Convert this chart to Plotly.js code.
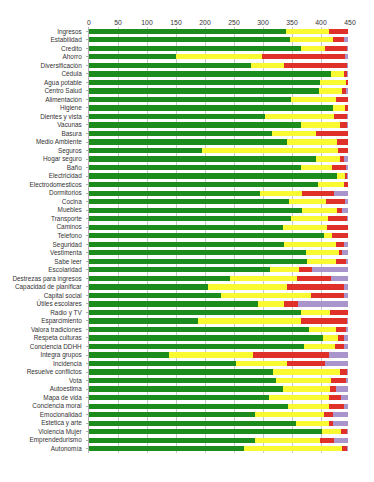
<!DOCTYPE html>
<html><head><meta charset="utf-8">
<script src="https://cdn.plot.ly/plotly-3.0.1.min.js"></script>
<style>html,body{margin:0;padding:0;background:#fff;}#c{width:374px;height:482px;}</style>
</head><body><div id="c"></div>
<script>
const categories = ["Ingresos","Estabilidad","Credito","Ahorro","Diversificación","Cédula","Agua potable","Centro Salud","Alimentación","Higiene","Dientes y vista","Vacunas","Basura","Medio Ambiente","Seguros","Hogar seguro","Baño","Electricidad","Electrodomesticos","Dormitorios","Cocina","Muebles","Transporte","Caminos","Telefono","Seguridad","Vestimenta","Sabe leer","Escolaridad","Destrezas para ingresos","Capacidad de planificar","Capital social","Útiles escolares","Radio y TV","Esparcimiento","Valora tradiciones","Respeta culturas","Conciencia DDHH","Integra grupos","Incidencia","Resuelve conflictos","Vota","Autoestima","Mapa de vida","Conciencia moral","Emocionalidad","Estetica y arte","Violencia Mujer","Emprendedurismo","Autonomía"];
const green  = [340,347,365,150,280,417,398,396,349,421,304,365,316,341,195,391,365,427,395,295,345,368,348,335,405,336,374,375,312,243,205,227,292,365,188,379,404,371,138,253,318,323,335,310,343,286,357,401,286,267];
const yellow = [74,74,42,149,57,23,45,41,76,20,119,68,75,86,234,41,54,14,44,73,64,60,64,76,14,89,57,51,50,115,136,155,44,50,177,47,26,53,144,89,114,95,80,104,70,119,57,33,113,170];
const red    = [32,19,37,142,107,4,3,6,21,5,22,11,55,19,17,8,24,4,7,54,32,9,33,35,27,14,6,17,22,59,99,58,24,31,79,17,10,16,131,65,13,25,11,20,27,15,6,10,23,7];
const purple = [0,6,2,5,2,2,0,3,0,0,1,2,0,0,0,6,3,1,1,24,5,9,1,0,0,7,9,3,62,29,6,6,86,0,2,3,6,6,33,39,1,3,20,12,6,26,26,2,24,2];

const common = {type:'bar', orientation:'h', y:categories, hoverinfo:'skip'};
const traces = [
  Object.assign({}, common, {x:green,  marker:{color:'#1c8c1c'}, name:'Verde'}),
  Object.assign({}, common, {x:yellow, marker:{color:'#fafa32'}, name:'Amarillo'}),
  Object.assign({}, common, {x:red,    marker:{color:'#e0302a'}, name:'Rojo'}),
  Object.assign({}, common, {x:purple, marker:{color:'#a994cc'}, name:'Morado'})
];
const layout = {
  width:374, height:482,
  margin:{l:89, r:24, t:27, b:29, pad:0},
  barmode:'stack', bargap:0.38, showlegend:false,
  paper_bgcolor:'#fff', plot_bgcolor:'#fff',
  font:{family:'"Liberation Sans", Arial, sans-serif', size:6.4, color:'#333333'},
  xaxis:{range:[0,450], side:'top', dtick:50, tick0:0, showgrid:true, gridcolor:'#c8c8c8', gridwidth:1,
         zeroline:false, showline:false, ticks:'', tickfont:{size:6.8, color:'#333333'}, fixedrange:true},
  yaxis:{type:'category', autorange:'reversed', tickmode:'array', tickvals:categories, ticktext:categories,
         showgrid:false, showline:true, linecolor:'#b0b0b0', linewidth:1,
         ticks:'outside', ticklen:2, tickcolor:'#b0b0b0', tickfont:{size:6.4, color:'#333333'}, ticklabelstandoff:3, fixedrange:true}
};
Plotly.newPlot('c', traces, layout, {displayModeBar:false, staticPlot:true});
</script>
</body></html>
